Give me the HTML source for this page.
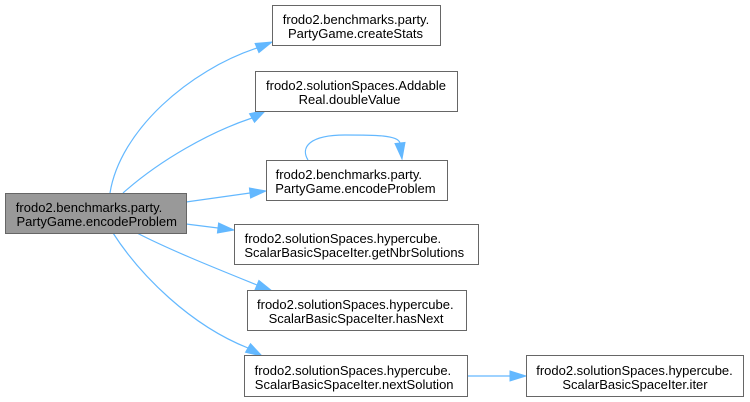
<!DOCTYPE html>
<html><head><meta charset="utf-8"><style>
html,body{margin:0;padding:0;background:#fff;width:750px;height:402px;overflow:hidden}
svg{display:block}
text{font-family:"Liberation Sans",Helvetica,Arial,sans-serif;font-size:13px;fill:#000}
</style></head><body>
<svg width="750" height="402" viewBox="0 0 750 402" xmlns="http://www.w3.org/2000/svg">
<g fill="none" stroke="#63b8ff" stroke-width="1.2">
<path d="M110,193 C120,130 190,70 257,48"/>
<path d="M123,193 C160,160 210,132 252,118"/>
<path d="M186,202 L250,193"/>
<path d="M186,224 L218,228"/>
<path d="M137,233 C170,250 215,268 257,285"/>
<path d="M113,233 C140,275 190,325 248,348"/>
<path d="M308,160 C300,147 310,135 345,135 C375,135 398,135 400,143"/>
<path d="M468,376 L510,376"/>
</g>
<g fill="#63b8ff" stroke="#63b8ff" stroke-width="1">
<polygon points="258.9,52.6 272,42 255.1,43.4"/>
<polygon points="254.5,122.3 266,110 249.5,113.7"/>
<polygon points="250.6,198 266,191 249.4,188"/>
<polygon points="217.4,233 234,230 218.6,223"/>
<polygon points="255.1,289.6 272,291 258.9,280.4"/>
<polygon points="245.5,352.3 262,356 250.5,343.7"/>
<polygon points="395,143.6 402,159 405,142.4"/>
<polygon points="510,371 526,376 510,381"/>
</g>
<g stroke="#666" stroke-width="1">
<rect x="5.5" y="193.5" width="181" height="40" fill="#999"/>
<rect x="272.5" y="5.5" width="168" height="40" fill="#fff"/>
<rect x="255.5" y="71.5" width="202" height="40" fill="#fff"/>
<rect x="266.5" y="160.5" width="181" height="40" fill="#fff"/>
<rect x="234.5" y="224.5" width="244" height="40" fill="#fff"/>
<rect x="247.5" y="290.5" width="219" height="40" fill="#fff"/>
<rect x="244.5" y="355.5" width="223" height="41" fill="#fff"/>
<rect x="526.5" y="355.5" width="217" height="41" fill="#fff"/>
</g>
<g text-anchor="start">
<text x="15.8" y="212">frodo2.benchmarks.party.</text>
<text x="16.5" y="226">PartyGame.encodeProblem</text>
<text x="275.6" y="179">frodo2.benchmarks.party.</text>
<text x="275.2" y="193">PartyGame.encodeProblem</text>
<text x="244.6" y="243">frodo2.solutionSpaces.hypercube.</text>
<text x="244.4" y="257">ScalarBasicSpaceIter.getNbrSolutions</text>
<text x="254.6" y="375">frodo2.solutionSpaces.hypercube.</text>
<text x="254.8" y="389">ScalarBasicSpaceIter.nextSolution</text>
</g>
<g text-anchor="middle">
<text x="356" y="24">frodo2.benchmarks.party.</text>
<text x="355.5" y="38">PartyGame.createStats</text>
<text x="356" y="90">frodo2.solutionSpaces.Addable</text>
<text x="349.5" y="104">Real.doubleValue</text>
<text x="355.3" y="309">frodo2.solutionSpaces.hypercube.</text>
<text x="356" y="323">ScalarBasicSpaceIter.hasNext</text>
<text x="634.5" y="375">frodo2.solutionSpaces.hypercube.</text>
<text x="635" y="389">ScalarBasicSpaceIter.iter</text>
</g>
</svg>
</body></html>
